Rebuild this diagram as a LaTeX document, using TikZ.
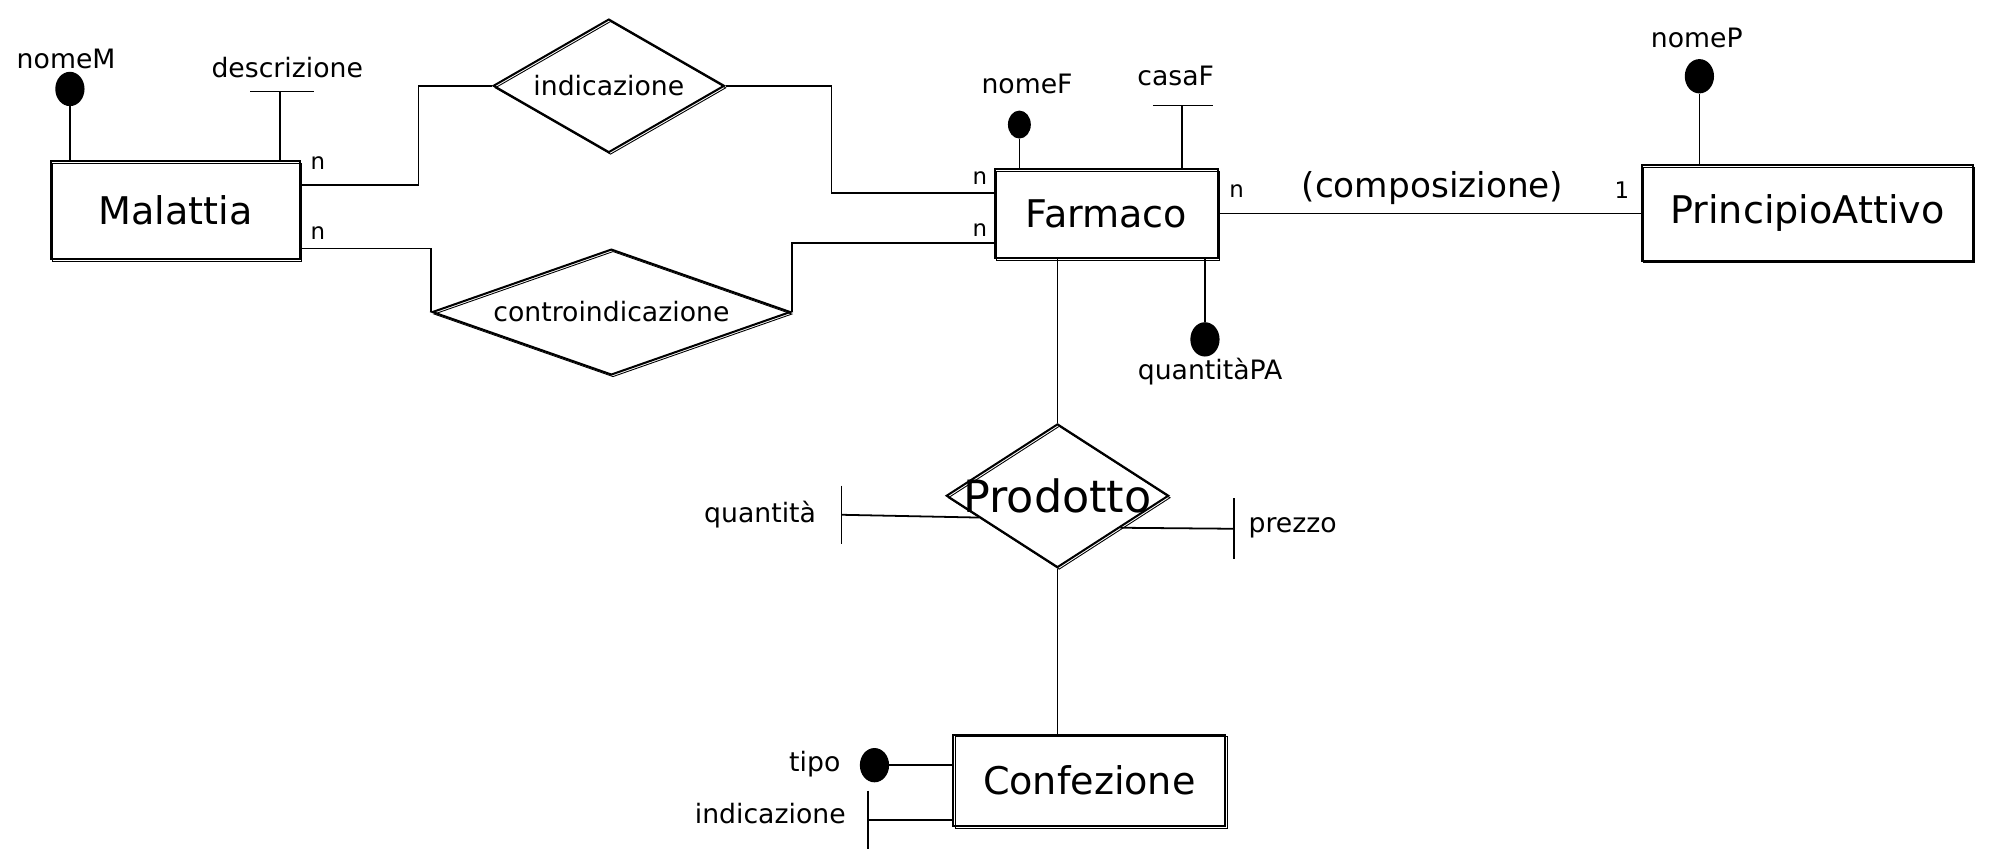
\documentclass[tikz,border=0pt]{standalone}
\usepackage{fontspec}
\setmainfont{DejaVu Sans}
\usetikzlibrary{shapes.geometric,calc}
\tikzset{
  sk/.style={postaction={draw, line width=0.7pt, transform canvas={shift={(1.3pt,-1.6pt)}}}},
  ent/.style={draw, line width=1.6pt, sk, inner sep=0pt, font=\fontsize{30}{34}\selectfont},
  rel/.style={draw, diamond, line width=1.6pt, sk, inner sep=0pt},
  lab/.style={inner sep=0pt, font=\fontsize{21}{24}\selectfont},
  card/.style={inner sep=0pt, font=\fontsize{18}{20}\selectfont},
  dot/.style={fill=black, draw=none, ellipse, inner sep=0pt, minimum width=23pt, minimum height=27pt},
  conn/.style={line width=1.4pt},
}
\begin{document}
\begin{tikzpicture}[x=1pt,y=-1pt]
\useasboundingbox (0,0) rectangle (1568,673.5);
% entities
\node[ent, minimum width=196pt, minimum height=77pt] (mal) at (138,165.5) {Malattia};
\node[ent, minimum width=175pt, minimum height=70pt] (far) at (870.5,168) {Farmaco};
\node[ent, minimum width=260pt, minimum height=75pt] (pa) at (1422,167.5) {PrincipioAttivo};
\node[ent, minimum width=214pt, minimum height=72pt] (conf) at (857,614) {Confezione};
% relationships
\node[rel, minimum width=182pt, minimum height=105pt, aspect=1.73,
      label={[lab]center:indicazione}] (ind) at (479,67.5) {};
\node[rel, minimum width=282pt, minimum height=99pt, aspect=2.85,
      label={[lab]center:controindicazione}] (contr) at (481,245.5) {};
\node[rel, minimum width=175pt, minimum height=113pt, aspect=1.55,
      label={[inner sep=0pt, font=\fontsize{35}{38}\selectfont]center:Prodotto}] (prod) at (832,390) {};
% relationship connectors
\draw[conn] ($(mal.east)+(0,-20)$) -| ($(ind.west)+(-58,0)$) -- (ind.west);
\draw[conn] (ind.east) -| ($(far.west)+(-128,-16)$) -- ($(far.west)+(0,-16)$);
\draw[conn] ($(mal.east)+(0,30)$) -| (contr.west);
\draw[conn] (contr.east) |- ($(far.west)+(0,23)$);
\draw[conn] (far.east) -- (far.east -| pa.west);
\draw[conn] (far.south -| prod.north) -- (prod.north);
\draw[conn] (prod.south) -- (prod.south |- conf.north);
% cardinalities
\node[card] (n1) at (250,128) {n};
\node[card] (n2) at (250,183) {n};
\node[card] (n3) at (771,140) {n};
\node[card] (n4) at (771,181) {n};
\node[card] (n5) at (973,150) {n};
\node[card] (c1) at (1276,150) {1};
\node[inner sep=0pt, font=\fontsize{27}{30}\selectfont] (comp) at (1127,148) {(composizione)};
% Malattia attributes
\node[dot] (mdot) at (55,70) {};
\draw[conn] (mdot) -- (mdot |- mal.north);
\node[lab] (nomeM) at (52,46) {nomeM};
\coordinate (dbar) at (220,72);
\coordinate (dbl) at (197,72);
\coordinate (dbr) at (247,72);
\draw[conn] (dbl) -- (dbr);
\draw[conn] (dbar) -- (dbar |- mal.north);
\node[lab] (descr) at (226,53) {descrizione};
% Farmaco attributes
\node[dot, minimum width=18pt, minimum height=22pt] (fdot) at (802,98) {};
\draw[conn] (fdot) -- (fdot |- far.north);
\node[lab] (nomeF) at (808,66) {nomeF};
\coordinate (cbar) at (930,83);
\coordinate (cbl) at (907,83);
\coordinate (cbr) at (954,83);
\draw[conn] (cbl) -- (cbr);
\draw[conn] (cbar) -- (cbar |- far.north);
\node[lab] (casaF) at (925,60) {casaF};
\node[dot] (qpa) at (948,267) {};
\draw[conn] (qpa |- far.south) -- (qpa);
\node[lab] (quantPA) at (952,292) {quantitàPA};
% PrincipioAttivo attribute
\node[dot] (pdot) at (1337,60) {};
\draw[conn] (pdot) -- (pdot |- pa.north);
\node[lab] (nomeP) at (1335,30) {nomeP};
% Prodotto attributes
\coordinate (qbar) at (662,405);
\coordinate (qbt) at (662,382);
\coordinate (qbb) at (662,428);
\draw[conn] (qbt) -- (qbb);
\draw[conn] (qbar) -- ($(prod.west)!0.3!(prod.south)$);
\node[lab] (quant) at (598,405) {quantità};
\coordinate (zbar) at (971,416);
\coordinate (zbt) at (971,392);
\coordinate (zbb) at (971,440);
\draw[conn] (zbt) -- (zbb);
\draw[conn] ($(prod.east)!0.44!(prod.south)$) -- (zbar);
\node[lab] (prezzo) at (1017,415) {prezzo};
% Confezione attributes
\node[dot] (tdot) at (688,602) {};
\draw[conn] (tdot) -- (tdot -| conf.west);
\node[lab] (tipo) at (641,601) {tipo};
\coordinate (ibar) at (683,645);
\coordinate (ibt) at (683,622);
\coordinate (ibb) at (683,668);
\draw[conn] (ibt) -- (ibb);
\draw[conn] (ibar) -- (ibar -| conf.west);
\node[lab] (indic2) at (606,640) {indicazione};
\end{tikzpicture}
\end{document}
